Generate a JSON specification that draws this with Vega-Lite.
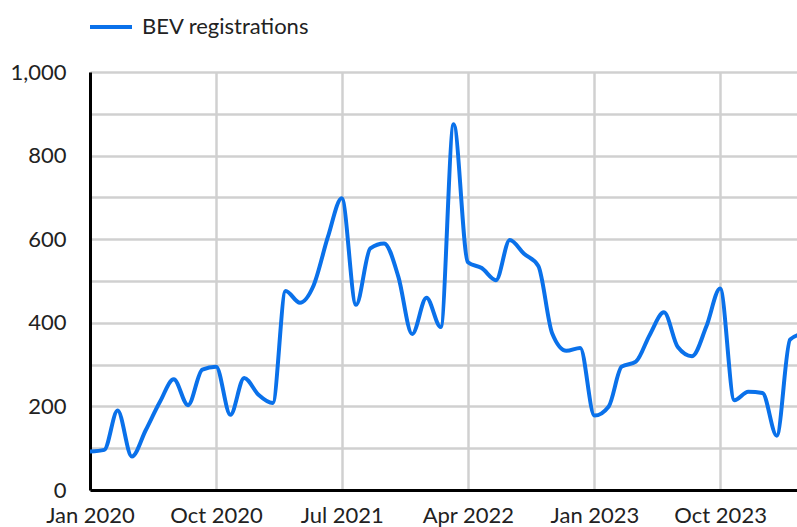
{
  "$schema": "https://vega.github.io/schema/vega-lite/v6.json",
  "width": 707,
  "height": 418,
  "autosize": {"type": "none"},
  "padding": {"left": 90, "top": 72, "right": 0, "bottom": 37},
  "background": "white",
  "config": {
    "view": {"stroke": null},
    "font": "Lato",
    "axis": {"labelFont": "Lato", "labelFontSize": 22, "labelColor": "#222222", "titleFontSize": 0}
  },
  "data": {
    "values": [
      {"date": "2020-01-01", "value": 92},
      {"date": "2020-02-01", "value": 96},
      {"date": "2020-03-01", "value": 190},
      {"date": "2020-04-01", "value": 80},
      {"date": "2020-05-01", "value": 143},
      {"date": "2020-06-01", "value": 211},
      {"date": "2020-07-01", "value": 265},
      {"date": "2020-08-01", "value": 203},
      {"date": "2020-09-01", "value": 288},
      {"date": "2020-10-01", "value": 295},
      {"date": "2020-11-01", "value": 180},
      {"date": "2020-12-01", "value": 268},
      {"date": "2021-01-01", "value": 228},
      {"date": "2021-02-01", "value": 208},
      {"date": "2021-03-01", "value": 476},
      {"date": "2021-04-01", "value": 448},
      {"date": "2021-05-01", "value": 490},
      {"date": "2021-06-01", "value": 606},
      {"date": "2021-07-01", "value": 698},
      {"date": "2021-08-01", "value": 443},
      {"date": "2021-09-01", "value": 578},
      {"date": "2021-10-01", "value": 590},
      {"date": "2021-11-01", "value": 510},
      {"date": "2021-12-01", "value": 373},
      {"date": "2022-01-01", "value": 460},
      {"date": "2022-02-01", "value": 390},
      {"date": "2022-03-01", "value": 875},
      {"date": "2022-04-01", "value": 545},
      {"date": "2022-05-01", "value": 531},
      {"date": "2022-06-01", "value": 502},
      {"date": "2022-07-01", "value": 598},
      {"date": "2022-08-01", "value": 565},
      {"date": "2022-09-01", "value": 536},
      {"date": "2022-10-01", "value": 375},
      {"date": "2022-11-01", "value": 333},
      {"date": "2022-12-01", "value": 340},
      {"date": "2023-01-01", "value": 178},
      {"date": "2023-02-01", "value": 200},
      {"date": "2023-03-01", "value": 295},
      {"date": "2023-04-01", "value": 307},
      {"date": "2023-05-01", "value": 371},
      {"date": "2023-06-01", "value": 425},
      {"date": "2023-07-01", "value": 342},
      {"date": "2023-08-01", "value": 320},
      {"date": "2023-09-01", "value": 391},
      {"date": "2023-10-01", "value": 482},
      {"date": "2023-11-01", "value": 215},
      {"date": "2023-12-01", "value": 235},
      {"date": "2024-01-01", "value": 232},
      {"date": "2024-02-01", "value": 130},
      {"date": "2024-03-01", "value": 360},
      {"date": "2024-04-01", "value": 375}
    ]
  },
  "transform": [{"calculate": "'BEV registrations'", "as": "series"}],
  "mark": {"type": "line", "interpolate": "monotone", "strokeWidth": 4, "clip": true},
  "encoding": {
    "x": {
      "field": "date",
      "type": "temporal",
      "scale": {
        "type": "utc",
        "domain": [
          {"year": 2020, "month": 1, "date": 1, "utc": true},
          {"year": 2024, "month": 3, "date": 16, "utc": true}
        ]
      },
      "axis": {
        "title": null,
        "values": [
          {"year": 2020, "month": 1, "date": 1, "utc": true},
          {"year": 2020, "month": 10, "date": 1, "utc": true},
          {"year": 2021, "month": 7, "date": 1, "utc": true},
          {"year": 2022, "month": 4, "date": 1, "utc": true},
          {"year": 2023, "month": 1, "date": 1, "utc": true},
          {"year": 2023, "month": 10, "date": 1, "utc": true}
        ],
        "format": "%b %Y",
        "grid": true,
        "gridColor": "#d0d0d0",
        "gridWidth": 2.5,
        "ticks": false,
        "domainColor": "#000000",
        "domainWidth": 3,
        "labelPadding": 15,
        "labelFlush": false,
        "zindex": 0
      }
    },
    "y": {
      "field": "value",
      "type": "quantitative",
      "scale": {"domain": [0, 1000], "nice": false},
      "axis": {
        "title": null,
        "values": [0, 100, 200, 300, 400, 500, 600, 700, 800, 900, 1000],
        "labelExpr": "datum.value % 200 == 0 ? datum.label : ''",
        "grid": true,
        "gridColor": "#d0d0d0",
        "gridWidth": 2.5,
        "ticks": false,
        "domainColor": "#000000",
        "domainWidth": 3,
        "labelPadding": 24,
        "zindex": 0
      }
    },
    "color": {
      "field": "series",
      "type": "nominal",
      "scale": {"range": ["#0a71ea"]},
      "legend": {
        "title": null,
        "orient": "none",
        "legendX": -2,
        "legendY": -68,
        "symbolType": "stroke",
        "symbolSize": 1764,
        "symbolStrokeWidth": 4,
        "labelFontSize": 22,
        "labelFont": "Lato",
        "labelColor": "#222222",
        "labelOffset": 8,
        "labelLimit": 500
      }
    }
  }
}
